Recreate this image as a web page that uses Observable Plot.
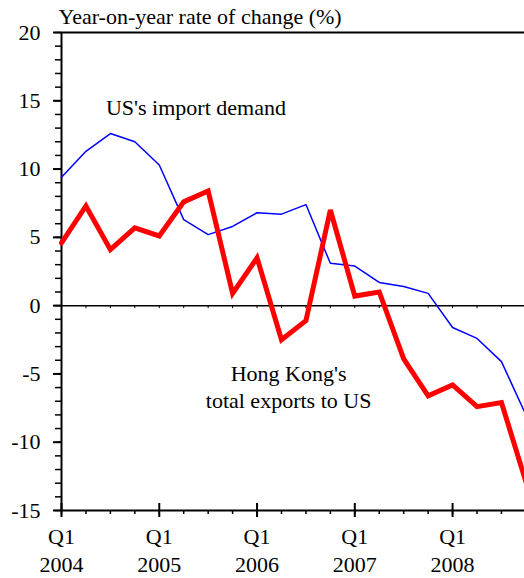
<!DOCTYPE html>
<html><head><meta charset="utf-8">
<script src="https://cdn.jsdelivr.net/npm/d3@7"></script>
<script src="https://cdn.jsdelivr.net/npm/@observablehq/plot@0.6"></script>
<style>
body{margin:0;background:#fff}
#chart svg, #chart svg text { font-family: "Liberation Serif", "Times New Roman", "DejaVu Serif", serif !important; }
</style>
</head><body><div id="chart"></div>
<script>
const quarters = ["2004Q1","2004Q2","2004Q3","2004Q4","2005Q1","2005Q2","2005Q3","2005Q4",
  "2006Q1","2006Q2","2006Q3","2006Q4","2007Q1","2007Q2","2007Q3","2007Q4",
  "2008Q1","2008Q2","2008Q3","2008Q4"];
const usImportDemand = [9.4,11.3,12.6,12.0,10.3,6.3,5.2,5.8,6.8,6.7,7.4,3.1,2.9,1.7,1.4,0.9,-1.6,-2.4,-4.1,-8.0];
const hkExportsToUS = [4.6,7.3,4.1,5.7,5.1,7.6,8.4,0.9,3.5,-2.5,-1.1,7.0,0.7,1.0,-3.9,-6.6,-5.8,-7.4,-7.1,-12.9];
const yearLabels = ["2004","2005","2006","2007","2008"];
const yMajorTicks = [-15,-10,-5,0,5,10,15,20];
const yMinorTicks = d3.range(-15, 21, 1);
const titleText = "Year-on-year rate of change (%)";
const usLabel = "US's import demand";
const hkLabel = "Hong Kong's\ntotal exports to US";

const data = quarters.map((q, i) => ({i, q, us: usImportDemand[i], hk: hkExportsToUS[i]}));
const qIdx = quarters.map((q, i) => i);
const q1Idx = qIdx.filter(i => quarters[i].endsWith("Q1"));

const font = "Liberation Serif, Times New Roman, serif";
const fs = 22;

const chart = Plot.plot({
  width: 524, height: 578,
  marginLeft: 61, marginRight: 0, marginTop: 32, marginBottom: 68,
  style: {fontFamily: font, fontSize: fs + "px", color: "#000", background: "#fff", overflow: "hidden"},
  x: {type: "linear", domain: [0, 19], range: [61, 525.4]},
  y: {domain: [-15, 20], range: [510, 32]},
  marks: [
    Plot.ruleY([20], {stroke: "#000", strokeWidth: 2}),
    Plot.ruleY([-15], {stroke: "#000", strokeWidth: 2}),
    Plot.ruleY([0], {stroke: "#000", strokeWidth: 1.5}),
    Plot.ruleX([0], {y1: -15, y2: 20, stroke: "#000", strokeWidth: 2}),
    Plot.ruleX(qIdx, {x: d => d, y1: -15, y2: -15, insetTop: 4, insetBottom: 0, stroke: "#000", strokeWidth: 1.5}),
    Plot.ruleX(qIdx, {x: d => d, y1: 0, y2: 0, insetTop: 3, insetBottom: 0, stroke: "#000", strokeWidth: 1}),
    Plot.ruleX(q1Idx, {x: d => d, y1: -15, y2: -15, insetTop: 7, insetBottom: 7, stroke: "#000", strokeWidth: 2}),
    Plot.ruleY(yMinorTicks, {y: d => d, x1: 0, x2: 0, insetLeft: -6, insetRight: 0, stroke: "#000", strokeWidth: 1.5}),
    Plot.axisY({ticks: yMajorTicks, tickSize: 8, tickPadding: 13, strokeWidth: 2, label: null, tickFormat: d => String(d), fontSize: fs, fontFamily: font}),
    Plot.axisX({ticks: q1Idx, tickSize: 0, tickPadding: 14, label: null, lineHeight: 1.27, fontSize: fs, fontFamily: font,
      tickFormat: d => `${quarters[d].slice(4)}\n${yearLabels[q1Idx.indexOf(d)]}`}),
    Plot.line(data, {x: "i", y: "us", stroke: "#0000ff", strokeWidth: 1.5, strokeLinejoin: "miter"}),
    Plot.line(data, {x: "i", y: "hk", stroke: "#ff0000", strokeWidth: 5, strokeLinejoin: "miter", strokeMiterlimit: 4}),
    Plot.text([titleText], {x: 0, y: 20, text: d => d, dx: -3, dy: -16, textAnchor: "start", lineAnchor: "middle", fontSize: fs, fontFamily: font, fill: "#000"}),
    Plot.text([usLabel], {x: 5.5, y: 14.5, text: d => d, textAnchor: "middle", lineAnchor: "middle", fontSize: fs, fontFamily: font, fill: "#000"}),
    Plot.text([hkLabel], {x: 9.29, y: -5.85, text: d => d, textAnchor: "middle", lineAnchor: "middle", lineHeight: 1.27, fontSize: fs, fontFamily: font, fill: "#000"})
  ]
});
document.getElementById("chart").appendChild(chart);
</script>
</body></html>
